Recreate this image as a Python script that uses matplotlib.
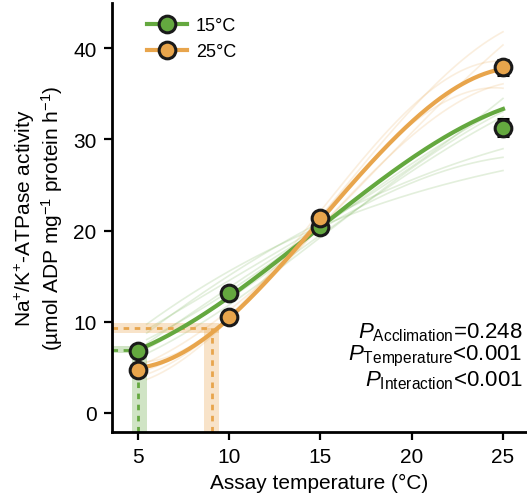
import numpy as np
import matplotlib.pyplot as plt

plt.rcParams['font.family'] = ['Liberation Sans', 'DejaVu Sans']
plt.rcParams['mathtext.fontset'] = 'custom'
plt.rcParams['mathtext.rm'] = 'Liberation Sans'
plt.rcParams['mathtext.it'] = 'Liberation Sans:italic'

green = '#64a83f'
orange = '#e8a54c'

# assay temperatures and mean activity
temps = [5, 10, 15, 20, 25]
meanTemps = [5, 10, 15, 25]
mean15 = [6.8, 13.1, 20.4, 31.3]
err15 = [0.4, 0.5, 0.5, 0.9]
mean25 = [4.7, 10.5, 21.4, 37.9]
err25 = [0.4, 0.5, 0.5, 0.8]

# group fitted curves, read every 2.5 degrees
fitTemps = [5, 7.5, 10, 12.5, 15, 17.5, 20, 22.5, 25]
fit15 = [6.85, 9.5, 12.8, 16.2, 20.3, 24.6, 27.9, 30.9, 33.4]
fit25 = [4.8, 6.9, 10.6, 14.7, 21.0, 27.6, 31.8, 35.4, 37.9]

# individual fits
ind15 = [
    [8.5, 14.5, 20.5, 27.0, 34.5],
    [7.5, 13.5, 20.0, 27.5, 33.4],
    [6.5, 12.5, 19.5, 26.5, 32.5],
    [8.0, 15.0, 21.0, 25.5, 29.0],
    [7.0, 13.5, 20.5, 25.0, 28.1],
    [9.0, 15.5, 20.5, 24.0, 26.6],
    [6.0, 12.0, 19.0, 27.0, 33.0],
]
ind25 = [
    [4.0, 10.0, 22.0, 33.0, 41.9],
    [5.0, 11.5, 20.0, 31.0, 40.3],
    [4.5, 10.0, 21.0, 30.0, 36.2],
    [3.5, 9.5, 22.5, 31.0, 35.8],
    [5.5, 11.0, 21.5, 34.0, 38.5],
]

# threshold points (x, y) with x and y confidence ranges
thr15 = (5.05, 6.95)
thr15_xci = (4.67, 5.49)
thr15_yci = (6.6, 7.3)
thr25 = (9.08, 9.35)
thr25_xci = (8.66, 9.43)
thr25_yci = (8.8, 9.9)

xmin, ymin = 3.6, -2.1
fs = 15


def smooth(xv, vals, deg, x0=5, x1=25):
    coef = np.polyfit(xv, vals, deg)
    xs = np.linspace(x0, x1, 200)
    return xs, np.polyval(coef, xs)


fig = plt.figure(figsize=(5.27, 5.02), dpi=100)
ax = fig.add_axes([0.2125, 0.1375, 0.787, 0.855])

for vals in ind15:
    xs, ys = smooth(temps, vals, 3, 5.5)
    ax.plot(xs, ys, color=green, lw=1.2, alpha=0.18, zorder=1)
for vals in ind25:
    xs, ys = smooth(temps, vals, 3, 5.5)
    ax.plot(xs, ys, color=orange, lw=1.2, alpha=0.18, zorder=1)

# threshold bands and dashed guides
for (tx, ty), xci, yci, col in [(thr15, thr15_xci, thr15_yci, green),
                                 (thr25, thr25_xci, thr25_yci, orange)]:
    ax.fill_between([xci[0], xci[1]], ymin, ty, color=col, alpha=0.3, lw=0, zorder=1)
    ax.fill_between([xmin, xci[1]], yci[0], yci[1], color=col, alpha=0.3, lw=0, zorder=1)
    ax.plot([tx, tx], [ymin, ty], color=col, lw=2, ls=(0, (2, 2)), zorder=2)
    ax.plot([xmin, tx], [ty, ty], color=col, lw=2, ls=(0, (2, 2)), zorder=2)

xs, ys = smooth(fitTemps, fit15, 4)
ax.plot(xs, ys, color=green, lw=3, zorder=3)
xs, ys = smooth(fitTemps, fit25, 4)
ax.plot(xs, ys, color=orange, lw=3, zorder=3)

ax.errorbar(meanTemps, mean15, yerr=err15, fmt='o', color='black', ecolor='black',
            elinewidth=2, capsize=4, capthick=2, mfc=green, mec='#1a1a1a', ms=12, mew=2.2, zorder=4)
ax.errorbar(meanTemps, mean25, yerr=err25, fmt='o', color='black', ecolor='black',
            elinewidth=2, capsize=4, capthick=2, mfc=orange, mec='#1a1a1a', ms=12, mew=2.2, zorder=5)

h1, = ax.plot([], [], color=green, lw=3, marker='o', mfc=green, mec='#1a1a1a', ms=12, mew=2.2)
h2, = ax.plot([], [], color=orange, lw=3, marker='o', mfc=orange, mec='#1a1a1a', ms=12, mew=2.2)
ax.legend([h1, h2], ['15°C', '25°C'], loc='upper left', bbox_to_anchor=(0.045, 1.005),
          frameon=False, fontsize=13, handlelength=2.2, labelspacing=0.5, handletextpad=0.5)

ax.text(0.99, 0.178,
        '$P_{\\mathrm{Acclimation}}$=0.248\n$P_{\\mathrm{Temperature}}$<0.001\n$P_{\\mathrm{Interaction}}$<0.001',
        transform=ax.transAxes, ha='right', va='center', fontsize=16, linespacing=1.03)

ax.set_xlim(xmin, 26.3)
ax.set_ylim(ymin, 45)
ax.set_xticks([5, 10, 15, 20, 25])
ax.set_yticks([0, 10, 20, 30, 40])
ax.spines['top'].set_visible(False)
ax.spines['right'].set_visible(False)
for s in ['left', 'bottom']:
    ax.spines[s].set_linewidth(2)
ax.tick_params(width=1.6, length=6, labelsize=fs, pad=5)

ax.set_xlabel('Assay temperature (°C)', fontsize=fs, labelpad=5)
ax.set_ylabel('Na$^{+}$/K$^{+}$-ATPase activity\n(µmol ADP mg$^{-1}$ protein h$^{-1}$)',
              fontsize=fs, labelpad=6, linespacing=1.1)

fig.savefig('out.png', dpi=100)
